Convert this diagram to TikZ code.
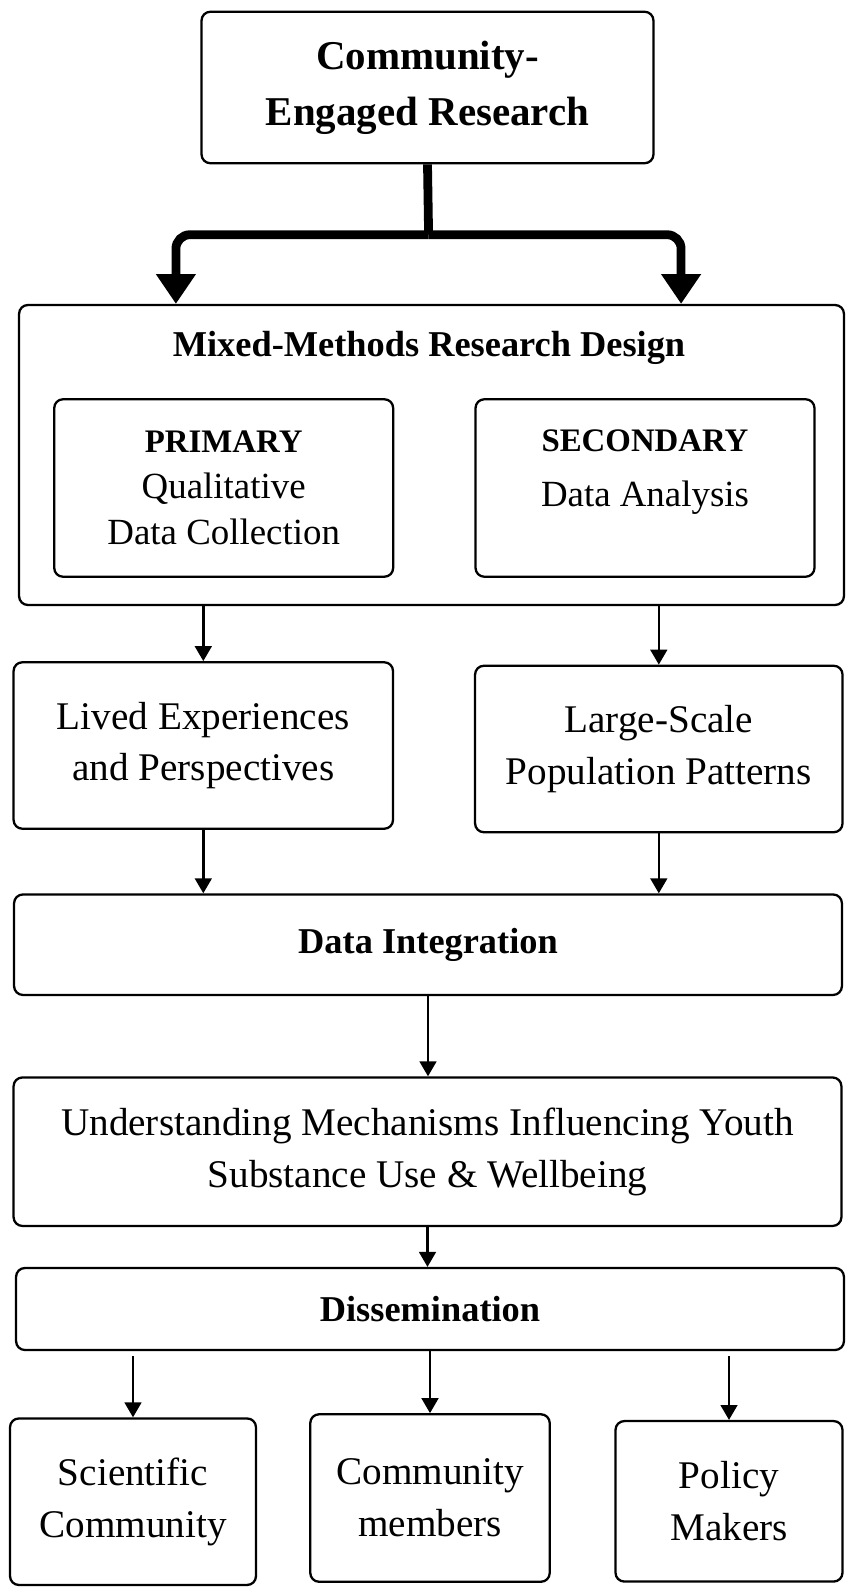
\documentclass[tikz,border=0pt]{standalone}
\usepackage{fontspec}
\setmainfont{Liberation Serif}
\usetikzlibrary{arrows.meta}
\newcommand\capfont{\fontsize{18.7}{26}\selectfont\bfseries}

\begin{document}
\begin{tikzpicture}[x=.02cm,y=-.02cm,
box/.style={draw,line width=1.3pt,rounded corners=5pt,align=center,inner sep=0pt,font=\fontsize{22.3}{29.5}\selectfont},
inbox/.style={box,font=\fontsize{21}{26}\selectfont,minimum width=6.78cm,minimum height=3.55cm},
wide/.style={box,minimum width=16.56cm},
low/.style={box,minimum height=3.33cm},
head/.style={font=\fontsize{20.7}{25}\selectfont\bfseries},
arr/.style={line width=1.4pt,-{Triangle[width=9.5pt,length=8.5pt]}},
fat/.style={line width=5pt,rounded corners=8pt}]
\useasboundingbox(0,0)rectangle(851,1594);
\node[box,font=\fontsize{23.3}{31.9}\selectfont\bfseries,minimum width=9.04cm,minimum height=3.03cm](cer)at(427.5,87.5){Community-\\Engaged Research};
\node[box,minimum width=16.5cm,minimum height=6cm](mmrd)at(431.5,455){};
\node[head,anchor=base](mmrdtitle)at(429,357){Mixed-Methods Research Design};
\node[inbox](prim)at(223.7,488){{\capfont PRIMARY}\\Qualitative\\Data Collection};
\node[inbox](sec)at(645,488){{\capfont SECONDARY}\\[5pt]Data Analysis\\[-3.5pt]\mbox{}};
\node[low,minimum width=7.59cm](lived)at(203.3,745.5){Lived Experiences\\and Perspectives};
\node[low,minimum width=7.35cm](large)at(658.8,749){Large-Scale\\Population Patterns};
\node[wide,head,minimum height=2.01cm](integ)at(428,944.7){Data Integration};
\node[wide,minimum height=2.97cm](under)at(427.5,1151.7){Understanding Mechanisms Influencing Youth\\Substance Use \& Wellbeing};
\node[wide,head,minimum height=1.64cm](dissem)at(430,1309){Dissemination};
\node[low,minimum width=4.92cm](sci)at(133,1501.7){Scientific\\Community};
\node[low,minimum width=4.79cm,minimum height=3.35cm](memb)at(430,1498){Community\\members};
\node[low,minimum width=4.54cm,minimum height=3.21cm](pol)at(729,1501.3){Policy\\Makers};
\coordinate(split)at(428.6,234.7);
\coordinate(lend)at([xshift=3.16cm]mmrd.north west);
\coordinate(rend)at([xshift=-3.28cm]mmrd.north east);
\draw[fat](cer.south)--(split);
\draw[fat,-{Triangle[width=21.7pt,length=17pt]}](split)-|(lend);
\draw[fat,-{Triangle[width=21.7pt,length=17pt]}](split)-|(rend);
\draw[arr](lived.north|-mmrd.south)--(lived.north);
\draw[arr](large.north|-mmrd.south)--(large.north);
\draw[arr](lived.south)--(lived.south|-integ.north);
\draw[arr](large.south)--(large.south|-integ.north);
\draw[arr](integ.south)--(integ.south|-under.north);
\draw[arr](under.south)--(under.south|-dissem.north);
\draw[arr,shorten <=3pt](sci.north|-dissem.south)--(sci.north);
\draw[arr](memb.north|-dissem.south)--(memb.north);
\draw[arr,shorten <=3pt](pol.north|-dissem.south)--(pol.north);
\end{tikzpicture}
\end{document}
